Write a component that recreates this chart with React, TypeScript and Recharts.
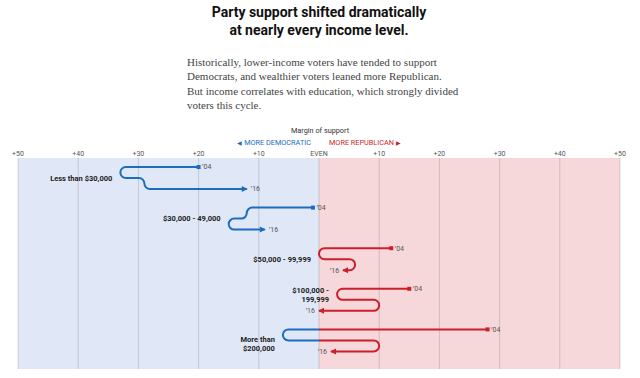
import { ComposedChart, Line, XAxis, YAxis, CartesianGrid } from 'recharts';

// income groups, top to bottom
const groupLabels = [
  ['Less than $30,000'],
  ['$30,000 - 49,000'],
  ['$50,000 - 99,999'],
  ['$100,000 -', '199,999'],
  ['More than', '$200,000'],
];

// margin of support, negative = more Democratic
const margin04 = [-20, -1, 12, 15, 28];
const margin08 = [-33, -12, 0, 3, -6];
const margin12 = [-29, -15, 6, 10, 10];
const margin16 = [-12, -9, 4, 0, 2];

const xTicks = [-50, -40, -30, -20, -10, 0, 10, 20, 30, 40, 50];

const BLUE = '#1c6dbf';
const RED = '#cc1f2b';
const BLUE_BG = '#e0e7f6';
const RED_BG = '#f6d8da';
const SANS = 'Roboto, "Liberation Sans", Arial, sans-serif';
const SERIF = '"Liberation Serif", "Times New Roman", serif';

const ROW_GAP = 40.6;
const LEVEL_GAP = 11;
const LABEL_DY = [0, 0, 0, -5, 3];

const tickFmt = (v: number) => (v === 0 ? 'EVEN' : `+${Math.abs(v)}`);
const sideColor = (v: number) => (v < 0 ? BLUE : RED);

// straight runs joined by round turns
function roundedSteps(context: any) {
  let pts: [number, number][] = [];
  return {
    areaStart() {},
    areaEnd() {},
    lineStart() {
      pts = [];
    },
    lineEnd() {
      if (!pts.length) return;
      context.moveTo(pts[0][0], pts[0][1]);
      for (let i = 1; i < pts.length - 1; i++) {
        context.arcTo(pts[i][0], pts[i][1], pts[i + 1][0], pts[i + 1][1], LEVEL_GAP / 2);
      }
      const last = pts[pts.length - 1];
      context.lineTo(last[0], last[1]);
    },
    point(x: number, y: number) {
      pts.push([+x, +y]);
    },
  };
}

const series = groupLabels.map((_, g) => {
  const base = g * ROW_GAP;
  return [
    { x: margin04[g], y: base },
    { x: margin08[g], y: base },
    { x: margin08[g], y: base + LEVEL_GAP },
    { x: margin12[g], y: base + LEVEL_GAP },
    { x: margin12[g], y: base + 2 * LEVEL_GAP },
    { x: margin16[g], y: base + 2 * LEVEL_GAP },
  ];
});

const renderMarks = (g: number) => (props: any) => {
  const { cx, cy, index } = props;
  const key = `m-${g}-${index}`;
  const labelIdx = margin08[g] <= margin12[g] ? 2 : 3;
  if (index === 0) {
    const c = sideColor(margin04[g]);
    return (
      <g key={key}>
        <rect x={cx - 2} y={cy - 2} width={4} height={4} fill={c} />
        <text x={cx + 3.5} y={cy} dy="0.35em" fontSize={7} fill="#555" fontFamily={SANS}>
          ’04
        </text>
      </g>
    );
  }
  if (index === 5) {
    const c = sideColor(margin16[g]);
    const dir = margin16[g] > margin12[g] ? 1 : -1;
    const tip = cx + dir;
    return (
      <g key={key}>
        <polygon points={`${tip},${cy} ${tip - dir * 6},${cy - 3} ${tip - dir * 6},${cy + 3}`} fill={c} />
        <text
          x={tip + dir * 3}
          y={cy}
          dy="0.35em"
          fontSize={7}
          fill="#555"
          fontFamily={SANS}
          textAnchor={dir > 0 ? 'start' : 'end'}
        >
          ’16
        </text>
      </g>
    );
  }
  if (index === labelIdx) {
    const lines = groupLabels[g];
    const lh = 9;
    const y0 = cy + LABEL_DY[g] - ((lines.length - 1) * lh) / 2;
    return (
      <g key={key}>
        {lines.map((t, i) => (
          <text
            key={i}
            x={cx - 8}
            y={y0 + i * lh}
            dy="0.35em"
            textAnchor="end"
            fontSize={7.5}
            fontWeight={700}
            fill="#222"
            fontFamily={SANS}
          >
            {t}
          </text>
        ))}
      </g>
    );
  }
  return <g key={key} />;
};

const stripeFills = xTicks.slice(0, -1).map((t) => (t < 0 ? BLUE_BG : RED_BG));

export default function App() {
  return (
    <div style={{ position: 'absolute', left: 0, top: 0, width: 640, height: 378, background: '#fff' }}>
      <div
        style={{
          position: 'absolute',
          left: 0,
          top: 3,
          width: 638,
          textAlign: 'center',
          fontFamily: SANS,
          fontWeight: 700,
          fontSize: 14,
          lineHeight: '18px',
          color: '#111',
        }}
      >
        <div>Party support shifted dramatically</div>
        <div>at nearly every income level.</div>
      </div>
      <div
        style={{
          position: 'absolute',
          left: 187,
          top: 55,
          fontFamily: SERIF,
          fontSize: 11,
          lineHeight: '14.3px',
          color: '#444',
          whiteSpace: 'nowrap',
        }}
      >
        <div>Historically, lower-income voters have tended to support</div>
        <div>Democrats, and wealthier voters leaned more Republican.</div>
        <div>But income correlates with education, which strongly divided</div>
        <div>voters this cycle.</div>
      </div>
      <div
        style={{
          position: 'absolute',
          left: 220,
          top: 126,
          width: 200,
          textAlign: 'center',
          fontFamily: SANS,
          fontSize: 7.3,
          color: '#333',
        }}
      >
        Margin of support
      </div>
      <div
        style={{
          position: 'absolute',
          right: 640 - 311,
          top: 138,
          fontFamily: SANS,
          fontSize: 7.3,
          color: BLUE,
          whiteSpace: 'nowrap',
        }}
      >
        <span style={{ fontSize: 5.5 }}>◀</span> MORE DEMOCRATIC
      </div>
      <div
        style={{
          position: 'absolute',
          left: 329,
          top: 138,
          fontFamily: SANS,
          fontSize: 7.3,
          color: RED,
          whiteSpace: 'nowrap',
        }}
      >
        MORE REPUBLICAN <span style={{ fontSize: 5.5 }}>▶</span>
      </div>

      <ComposedChart width={640} height={378} margin={{ top: 138, right: 20, bottom: 9, left: 18 }}>
        <defs>
          {series.map((_, g) => {
            const vals = [margin04[g], margin08[g], margin12[g], margin16[g]];
            const lo = Math.min(...vals);
            const hi = Math.max(...vals);
            const off = lo < 0 && hi > 0 ? (0 - lo) / (hi - lo) : lo < 0 ? 1 : 0;
            return (
              <linearGradient key={g} id={`path-${g}`} x1="0" y1="0" x2="1" y2="0">
                <stop offset={off} stopColor={BLUE} />
                <stop offset={off} stopColor={RED} />
              </linearGradient>
            );
          })}
        </defs>
        <CartesianGrid
          horizontal={false}
          stroke="rgba(0,0,0,0.14)"
          verticalFill={stripeFills}
          fillOpacity={1}
        />
        <XAxis
          type="number"
          dataKey="x"
          orientation="top"
          domain={[-50, 50]}
          ticks={xTicks}
          interval={0}
          tickFormatter={tickFmt}
          axisLine={false}
          tickLine={false}
          tickSize={0}
          tickMargin={2}
          height={20}
          allowDataOverflow
          tick={{ fontSize: 7, fill: '#555', fontFamily: SANS }}
        />
        <YAxis type="number" domain={[-9, 202]} reversed hide allowDataOverflow width={0} />
        {series.map((pts, g) => {
          const vals = [margin04[g], margin08[g], margin12[g], margin16[g]];
          const lo = Math.min(...vals);
          const hi = Math.max(...vals);
          const stroke = lo < 0 && hi > 0 ? `url(#path-${g})` : sideColor(lo < 0 ? lo : hi);
          return (
            <Line
              key={g}
              data={pts}
              dataKey="y"
              type={roundedSteps as any}
              stroke={stroke}
              strokeWidth={2}
              dot={renderMarks(g)}
              activeDot={false}
              isAnimationActive={false}
            />
          );
        })}
      </ComposedChart>
    </div>
  );
}
